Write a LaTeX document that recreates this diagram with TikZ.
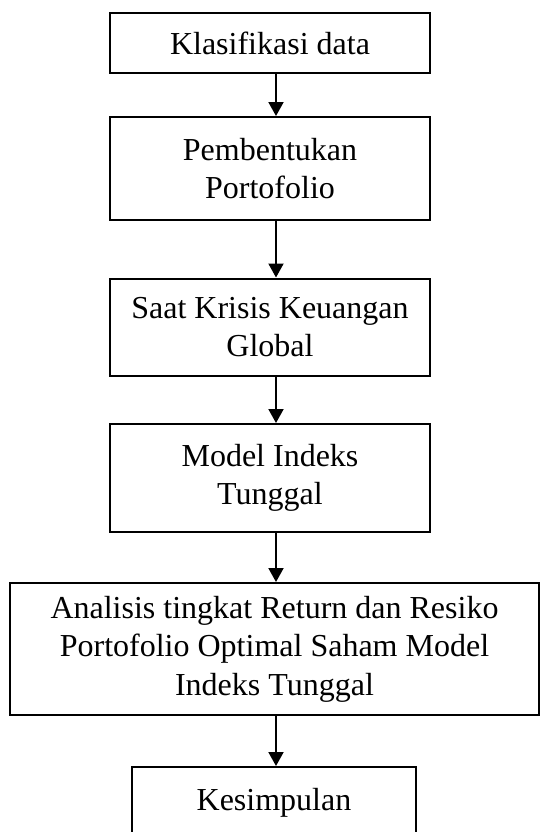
\documentclass[tikz,border=0pt]{standalone}
\usepackage{fontspec}
\setmainfont{Liberation Serif}
\usetikzlibrary{arrows.meta,positioning,calc}

\begin{document}
\begin{tikzpicture}[x=0.5pt, y=-0.5pt, >={Triangle[width=7.5pt,length=7pt]},
  box/.style={draw, line width=1pt, inner sep=0pt,
    minimum width=160pt, align=center,
    font=\fontsize{16}{19.3}\selectfont},
  arr/.style={->, line width=1pt}]

\useasboundingbox (0,0) rectangle (540,832);

% Nodes
\node[box, minimum height=30pt] (klas) at (270,43) {Klasifikasi data};
\node[box, minimum height=51.5pt] (bentuk) at (270,168.5) {Pembentukan\\Portofolio};
\node[box, minimum height=48.5pt] (krisis) at (270,327) {Saat Krisis Keuangan\\Global};
\node[box, minimum height=54pt] (model) at (270,478) {Model Indeks\\Tunggal};
\node[box, minimum height=66pt, minimum width=264.5pt] (anal) at (274.5,649)
  {Analisis tingkat Return dan Resiko\\Portofolio Optimal Saham Model\\Indeks Tunggal};
\node[box, minimum height=36pt, minimum width=142pt] (simpul) at (274,803) {Kesimpulan};

% Arrows
\draw[arr] ([xshift=3pt]klas.south) -- ([xshift=3pt]bentuk.north);
\draw[arr] ([xshift=3pt]bentuk.south) -- ([xshift=3pt]krisis.north);
\draw[arr] ([xshift=3pt]krisis.south) -- ([xshift=3pt]model.north);
\draw[arr] ([xshift=3pt]model.south) -- ([xshift=0.75pt]anal.north);
\draw[arr] ([xshift=0.75pt]anal.south) -- ([xshift=1pt]simpul.north);

\end{tikzpicture}
\end{document}
